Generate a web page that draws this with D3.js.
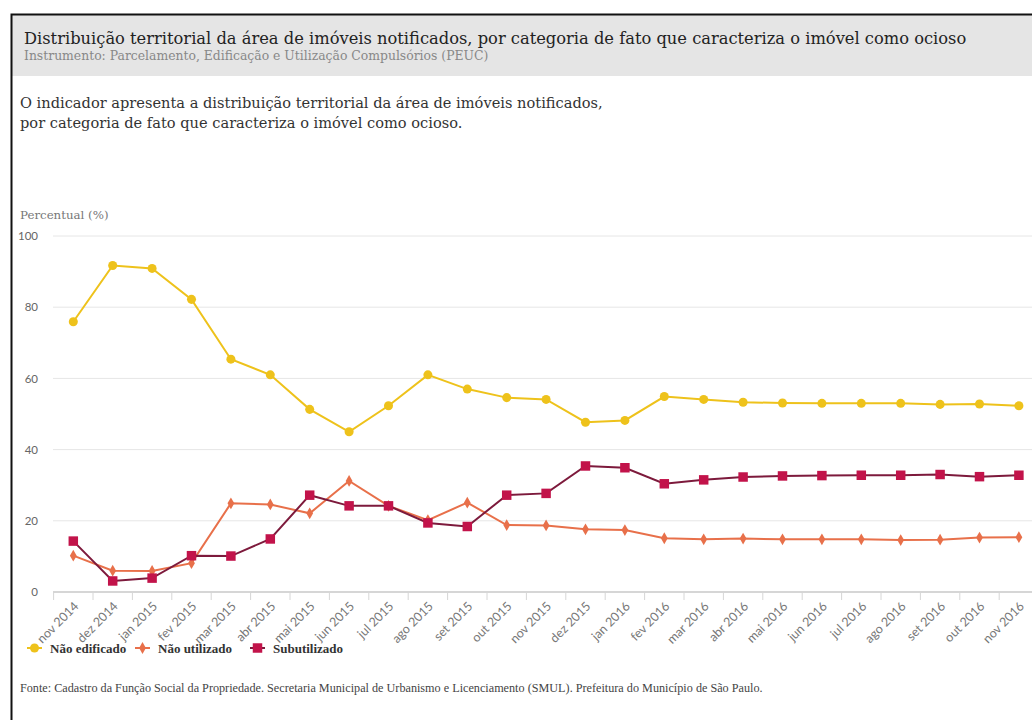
<!DOCTYPE html>
<html>
<head>
<meta charset="utf-8">
<script src="https://cdn.jsdelivr.net/npm/d3@7"></script>
<style>
  body { margin: 0; background: #fff; }
  svg { display: block; }
</style>
</head>
<body>
<div id="viz"></div>
<script>
// months on the x axis
const months = ["nov 2014", "dez 2014", "jan 2015", "fev 2015", "mar 2015", "abr 2015", "mai 2015",
  "jun 2015", "jul 2015", "ago 2015", "set 2015", "out 2015", "nov 2015", "dez 2015", "jan 2016",
  "fev 2016", "mar 2016", "abr 2016", "mai 2016", "jun 2016", "jul 2016", "ago 2016", "set 2016",
  "out 2016", "nov 2016"];

// percentual per category
const naoEdificado = [75.9, 91.7, 90.9, 82.2, 65.4, 61.0, 51.3, 45.0, 52.3, 61.0, 57.0, 54.6, 54.1,
  47.7, 48.2, 54.9, 54.1, 53.3, 53.1, 53.0, 53.0, 53.0, 52.7, 52.8, 52.3];
const naoUtilizado = [10.2, 6.0, 5.9, 8.1, 24.9, 24.6, 22.1, 31.2, 24.2, 20.2, 25.1, 18.8, 18.7,
  17.6, 17.4, 15.1, 14.8, 15.0, 14.8, 14.8, 14.8, 14.6, 14.7, 15.3, 15.4];
const subutilizado = [14.3, 3.1, 3.9, 10.2, 10.1, 14.9, 27.2, 24.2, 24.2, 19.4, 18.4, 27.2, 27.7,
  35.4, 34.9, 30.4, 31.5, 32.3, 32.6, 32.7, 32.8, 32.8, 33.0, 32.4, 32.8];

const yTicks = [0, 20, 40, 60, 80, 100];

const series = [
  { name: "Não edificado", values: naoEdificado, color: "#eec21b", line: "#eec21b", symbol: d3.symbolCircle, size: 64 },
  { name: "Não utilizado", values: naoUtilizado, color: "#e8704a", line: "#e8704a", symbol: d3.symbolDiamond, size: 40 },
  { name: "Subutilizado", values: subutilizado, color: "#c2134a", line: "#7d1a3c", symbol: d3.symbolSquare, size: 90 }
];

const width = 1032, height = 720;
const serif = "'DejaVu Serif', serif";
const narrowSerif = "'Liberation Serif', serif";

const svg = d3.select("#viz")
  .append("svg")
  .attr("width", width)
  .attr("height", height);

// frame and header band
svg.append("rect")
  .attr("x", 12).attr("y", 15)
  .attr("width", width).attr("height", 61)
  .attr("fill", "#e5e5e5");

svg.append("path")
  .attr("d", `M11.5,${height} V14.5 H${width}`)
  .attr("fill", "none")
  .attr("stroke", "#111")
  .attr("stroke-width", 2);

svg.append("text")
  .attr("x", 24).attr("y", 44)
  .attr("font-family", serif)
  .attr("font-size", 16.3)
  .attr("fill", "#222")
  .text("Distribuição territorial da área de imóveis notificados, por categoria de fato que caracteriza o imóvel como ocioso");

svg.append("text")
  .attr("x", 24).attr("y", 60)
  .attr("font-family", serif)
  .attr("font-size", 12.4)
  .attr("fill", "#888")
  .text("Instrumento: Parcelamento, Edificação e Utilização Compulsórios (PEUC)");

const desc = ["O indicador apresenta a distribuição territorial da área de imóveis notificados,",
  "por categoria de fato que caracteriza o imóvel como ocioso."];
svg.selectAll(".desc")
  .data(desc)
  .join("text")
  .attr("class", "desc")
  .attr("x", 20)
  .attr("y", (d, i) => 108 + i * 20)
  .attr("font-family", serif)
  .attr("font-size", 14.6)
  .attr("fill", "#333")
  .text(d => d);

// scales
const xScale = d3.scaleBand()
  .domain(months)
  .range([53.6, 53.6 + 39.4 * months.length]);

const yScale = d3.scaleLinear()
  .domain([0, 100])
  .range([592, 236]);

const x = d => xScale(d) + xScale.bandwidth() / 2;

// y label
svg.append("text")
  .attr("x", 20).attr("y", 219)
  .attr("font-family", serif)
  .attr("font-size", 11.8)
  .attr("fill", "#777")
  .text("Percentual (%)");

// gridlines
svg.append("g")
  .selectAll("line")
  .data(yTicks.filter(d => d > 0))
  .join("line")
  .attr("x1", 53).attr("x2", width)
  .attr("y1", d => yScale(d)).attr("y2", d => yScale(d))
  .attr("stroke", "#e6e6e6");

// y axis labels
const yAxis = d3.axisLeft(yScale).tickValues(yTicks).tickSize(0).tickPadding(0);
svg.append("g")
  .attr("transform", "translate(38,0)")
  .call(yAxis)
  .call(g => g.select(".domain").remove())
  .call(g => g.selectAll("text")
    .attr("font-family", "'Lato', sans-serif")
    .attr("font-size", 11.5)
    .attr("fill", "#666")
    .attr("text-anchor", "end"));

// x axis
const xAxis = d3.axisBottom(xScale).tickSize(0).tickPadding(0);
const gx = svg.append("g")
  .attr("transform", "translate(0,592)")
  .call(xAxis);
gx.select(".domain").attr("stroke", "#d6d6d6").attr("stroke-width", 2)
  .attr("d", `M53,0H${width}`);
gx.selectAll(".tick text")
  .attr("font-family", "'Lato', sans-serif")
  .attr("font-size", 12.5)
  .attr("fill", "#777")
  .attr("text-anchor", "end")
  .attr("x", 0).attr("y", 0)
  .attr("dx", 0).attr("dy", 0)
  .attr("transform", "translate(6,15) rotate(-45)");
// ticks between the months
gx.append("g")
  .selectAll("line")
  .data(months)
  .join("line")
  .attr("x1", d => xScale(d)).attr("x2", d => xScale(d))
  .attr("y1", 0).attr("y2", 8)
  .attr("stroke", "#d6d6d6");

// lines and markers
const line = d3.line()
  .x((d, i) => x(months[i]))
  .y(d => yScale(d));

series.forEach(s => {
  svg.append("path")
    .datum(s.values)
    .attr("fill", "none")
    .attr("stroke", s.line)
    .attr("stroke-width", 2)
    .attr("d", line);

  svg.append("g")
    .selectAll("path")
    .data(s.values)
    .join("path")
    .attr("d", d3.symbol().type(s.symbol).size(s.size))
    .attr("transform", (d, i) => `translate(${x(months[i])},${yScale(d)})`)
    .attr("fill", s.color);
});

// legend
const legendX = [27, 135, 250];
const legend = svg.append("g")
  .selectAll("g")
  .data(series)
  .join("g")
  .attr("transform", (d, i) => `translate(${legendX[i]},648)`);
legend.append("line")
  .attr("x1", 0).attr("x2", 15)
  .attr("stroke", d => d.line)
  .attr("stroke-width", 2);
legend.append("path")
  .attr("d", d => d3.symbol().type(d.symbol).size(d.size)())
  .attr("transform", "translate(7.5,0)")
  .attr("fill", d => d.color);
legend.append("text")
  .attr("x", 23).attr("y", 4.5)
  .attr("font-family", narrowSerif)
  .attr("font-size", 13)
  .attr("font-weight", "bold")
  .attr("fill", "#333")
  .text(d => d.name);

svg.append("text")
  .attr("x", 20).attr("y", 692)
  .attr("font-family", narrowSerif)
  .attr("font-size", 12.2)
  .attr("fill", "#444")
  .text("Fonte: Cadastro da Função Social da Propriedade. Secretaria Municipal de Urbanismo e Licenciamento (SMUL). Prefeitura do Município de São Paulo.");
</script>
</body>
</html>
